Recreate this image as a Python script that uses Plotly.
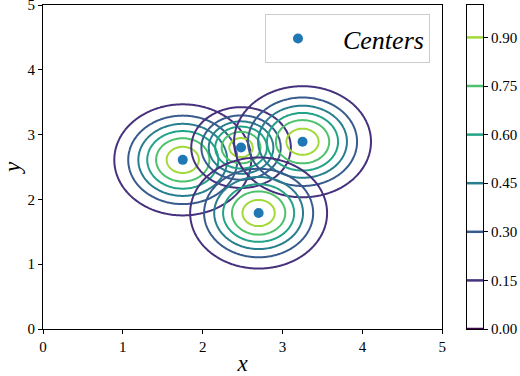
import numpy as np
import plotly.graph_objects as go
import plotly.colors as pc

# ---- data ----
center_x = [1.75, 2.48, 3.25, 2.70]
center_y = [2.61, 2.80, 2.89, 1.79]
sigmas = [0.44, 0.32, 0.44, 0.44]
levels = [0.00, 0.15, 0.30, 0.45, 0.60, 0.75, 0.90]
level_labels = ["0.00", "0.15", "0.30", "0.45", "0.60", "0.75", "0.90"]
axis_ticks = [0, 1, 2, 3, 4, 5]
norm_max = 1.05

FONT = "Liberation Serif"

grid = np.linspace(0, 5, 301)
X, Y = np.meshgrid(grid, grid)

line_levels = levels[1:]
lo, hi = line_levels[0], line_levels[-1]
line_scale = [[(lev - lo) / (hi - lo), pc.sample_colorscale("Viridis", [lev / norm_max])[0]]
              for lev in line_levels]

fig = go.Figure()

for cx, cy, s in zip(center_x, center_y, sigmas):
    Z = np.exp(-((X - cx) ** 2 + (Y - cy) ** 2) / (2 * s ** 2))
    fig.add_trace(go.Contour(
        x=grid, y=grid, z=Z,
        contours=dict(coloring="lines", start=lo, end=hi, size=0.15),
        colorscale=line_scale,
        line=dict(width=2), showscale=False, showlegend=False,
        hoverinfo="skip", xaxis="x", yaxis="y",
    ))

fig.add_trace(go.Scatter(
    x=center_x, y=center_y, mode="markers",
    marker=dict(color="#1f77b4", size=10),
    name="  <i>Centers</i>", xaxis="x", yaxis="y",
))

# colorbar built as a small subplot
for lev in levels:
    col = pc.sample_colorscale("Viridis", [lev / norm_max])[0]
    fig.add_trace(go.Scatter(
        x=[0, 1], y=[lev, lev], mode="lines",
        line=dict(color=col, width=2.5), showlegend=False,
        hoverinfo="skip", xaxis="x2", yaxis="y2", cliponaxis=False,
    ))

axis_common = dict(
    showgrid=False, zeroline=False, showline=True, linecolor="black",
    linewidth=1, mirror=True, ticks="outside", ticklen=4, tickwidth=1,
    tickcolor="black", tickfont=dict(family=FONT, size=15, color="black"),
    automargin=False, ticklabeloverflow="allow",
)

fig.update_layout(
    width=520, height=376,
    margin=dict(l=43, r=37, t=5, b=47),
    plot_bgcolor="white", paper_bgcolor="white",
    xaxis=dict(domain=[0, 0.9075], range=[0, 5], tickvals=axis_ticks,
               title=dict(text="<i>x</i>", font=dict(family=FONT, size=23, color="black")),
               **axis_common),
    yaxis=dict(range=[0, 5], tickvals=axis_ticks,
               title=dict(text="<i>y</i>", font=dict(family=FONT, size=23, color="black")),
               **axis_common),
    xaxis2=dict(domain=[0.9636, 1], range=[0, 1], anchor="y2", showgrid=False,
                zeroline=False, showline=True, linecolor="black", mirror=True,
                showticklabels=False, ticks="", automargin=False),
    yaxis2=dict(domain=[0, 1], range=[0, 1.0], anchor="x2", side="right",
                tickvals=levels, ticktext=level_labels,
                **axis_common),
    legend=dict(x=0.8795, y=0.972, xanchor="right", yanchor="top",
                bgcolor="white", bordercolor="#cccccc", borderwidth=1,
                itemwidth=54,
                font=dict(family=FONT, size=26, color="black")),
)

fig.write_html("out.html", config={"displayModeBar": False},
               post_script="document.body.style.margin='0';document.body.style.padding='0';")
